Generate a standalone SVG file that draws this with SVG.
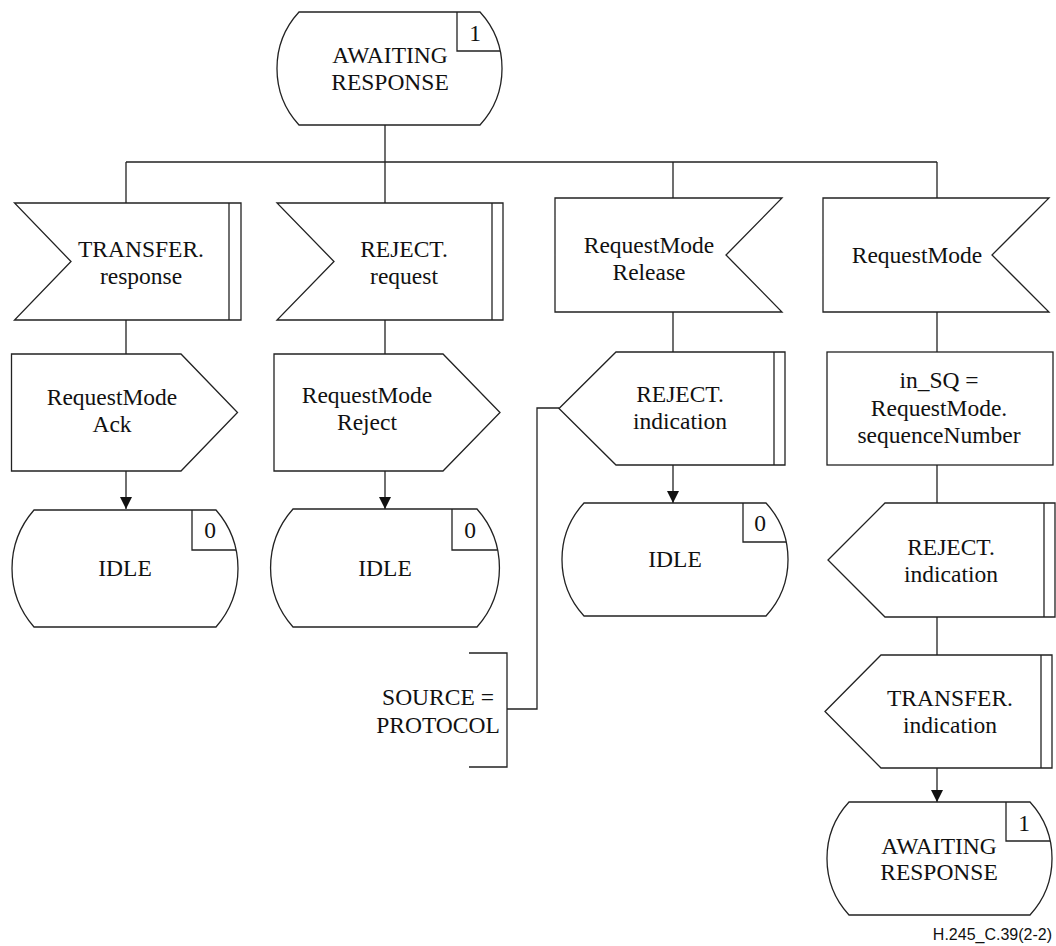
<svg xmlns="http://www.w3.org/2000/svg" width="1056" height="946" viewBox="0 0 1056 946">
<style>
.s{fill:#fff;stroke:#222;stroke-width:1.3;stroke-linejoin:miter}
.l{fill:none;stroke:#222;stroke-width:1.3}
.t{font-family:"Liberation Serif","Times New Roman",serif;font-size:23.5px;fill:#111;text-anchor:middle}
.f{font-family:"Liberation Sans",Arial,sans-serif;font-size:16px;fill:#111;text-anchor:end}
</style>
<defs>
<marker id="arr" markerUnits="userSpaceOnUse" markerWidth="12" markerHeight="12" refX="12" refY="6" orient="auto">
<path d="M0,0 L12,6 L0,12 Z" fill="#111"/>
</marker>
</defs>
<rect width="1056" height="946" fill="#fff"/>

<g id="connectors">
<path class="l" d="M385,125 V162 M126,162 H937 M126,162 V203 M385,162 V203 M673,162 V198 M937,162 V198"/>
<path class="l" d="M126,320 V354 M385,320 V354 M673,312 V352 M937,312 V352"/>
<path class="l" d="M126,471 V509" marker-end="url(#arr)"/>
<path class="l" d="M385,471 V509" marker-end="url(#arr)"/>
<path class="l" d="M673,465 V503" marker-end="url(#arr)"/>
<path class="l" d="M937,465 V503 M937,617 V655"/>
<path class="l" d="M937,768 V802" marker-end="url(#arr)"/>
<path class="l" d="M559,408 H537 V709 H507"/>
</g>

<g id="state_awaiting_top">
<path class="s" d="M299,12 H480 A83.5,83.5 0 0 1 480,125 H299 A83.5,83.5 0 0 1 299,12 Z"/>
<path class="l" d="M457,12 V51 H500"/>
<text class="t" x="475" y="40.5">1</text>
<text class="t" x="390" y="63">AWAITING</text>
<text class="t" x="390" y="90">RESPONSE</text>
</g>

<g id="input_transfer_response">
<path class="s" d="M14.5,203 H241 V320 H14.5 L71,261.5 Z"/>
<path class="l" d="M229,203 V320"/>
<text class="t" x="141" y="257">TRANSFER.</text>
<text class="t" x="141" y="284">response</text>
</g>

<g id="input_reject_request">
<path class="s" d="M277,203 H503 V320 H277 L334,261.5 Z"/>
<path class="l" d="M492,203 V320"/>
<text class="t" x="404" y="257">REJECT.</text>
<text class="t" x="404" y="284">request</text>
</g>

<g id="input_requestmode_release">
<path class="s" d="M555,198 H782 L726,255 L782,312 H555 Z"/>
<text class="t" x="649" y="253">RequestMode</text>
<text class="t" x="649" y="280">Release</text>
</g>

<g id="input_requestmode">
<path class="s" d="M823,198 H1049 L992,255 L1049,312 H823 Z"/>
<text class="t" x="917" y="263">RequestMode</text>
</g>

<g id="output_requestmode_ack">
<path class="s" d="M11.5,354 H181 L237.5,412.5 L181,471 H11.5 Z"/>
<text class="t" x="112" y="405">RequestMode</text>
<text class="t" x="112" y="432">Ack</text>
</g>

<g id="output_requestmode_reject">
<path class="s" d="M274,354 H443 L500,412.5 L443,471 H274 Z"/>
<text class="t" x="367" y="403">RequestMode</text>
<text class="t" x="367" y="430">Reject</text>
</g>

<g id="output_reject_indication_1">
<path class="s" d="M559,408.5 L616,352 H785 V465 H616 Z"/>
<path class="l" d="M774,352 V465"/>
<text class="t" x="680" y="402">REJECT.</text>
<text class="t" x="680" y="429">indication</text>
</g>

<g id="task_in_sq">
<rect class="s" x="827" y="352" width="226" height="113"/>
<text class="t" x="939" y="388">in_SQ =</text>
<text class="t" x="939" y="415.5">RequestMode.</text>
<text class="t" x="939" y="443">sequenceNumber</text>
</g>

<g id="state_idle_1">
<path class="s" d="M34,510 H216 A88.8,88.8 0 0 1 216,627 H34 A88.8,88.8 0 0 1 34,510 Z"/>
<path class="l" d="M192,510 V550 H236"/>
<text class="t" x="210" y="538">0</text>
<text class="t" x="125" y="576">IDLE</text>
</g>

<g id="state_idle_2">
<path class="s" d="M293,509 H477 A88.8,88.8 0 0 1 477,627 H293 A88.8,88.8 0 0 1 293,509 Z"/>
<path class="l" d="M452,509 V550 H497.2"/>
<text class="t" x="470" y="538">0</text>
<text class="t" x="385" y="576">IDLE</text>
</g>

<g id="state_idle_3">
<path class="s" d="M584,503 H766 A83.5,83.5 0 0 1 766,616 H584 A83.5,83.5 0 0 1 584,503 Z"/>
<path class="l" d="M743,503 V542 H786.1"/>
<text class="t" x="760" y="531">0</text>
<text class="t" x="675" y="567">IDLE</text>
</g>

<g id="output_reject_indication_2">
<path class="s" d="M828,560 L885,503 H1055 V617 H885 Z"/>
<path class="l" d="M1044,503 V617"/>
<text class="t" x="951" y="555">REJECT.</text>
<text class="t" x="951" y="582">indication</text>
</g>

<g id="comment_source">
<path class="l" d="M469,653 H507 V767 H469"/>
<text class="t" x="438" y="705">SOURCE =</text>
<text class="t" x="438" y="733">PROTOCOL</text>
</g>

<g id="output_transfer_indication">
<path class="s" d="M825,711.5 L881,655 H1052 V768 H881 Z"/>
<path class="l" d="M1041,655 V768"/>
<text class="t" x="950" y="706">TRANSFER.</text>
<text class="t" x="950" y="733">indication</text>
</g>

<g id="state_awaiting_bottom">
<path class="s" d="M849,802 H1030 A83.5,83.5 0 0 1 1030,915 H849 A83.5,83.5 0 0 1 849,802 Z"/>
<path class="l" d="M1006,802 V841 H1050.1"/>
<text class="t" x="1024" y="831">1</text>
<text class="t" x="939" y="854">AWAITING</text>
<text class="t" x="939" y="880">RESPONSE</text>
</g>

<text class="f" x="1052" y="940">H.245_C.39(2-2)</text>
</svg>
